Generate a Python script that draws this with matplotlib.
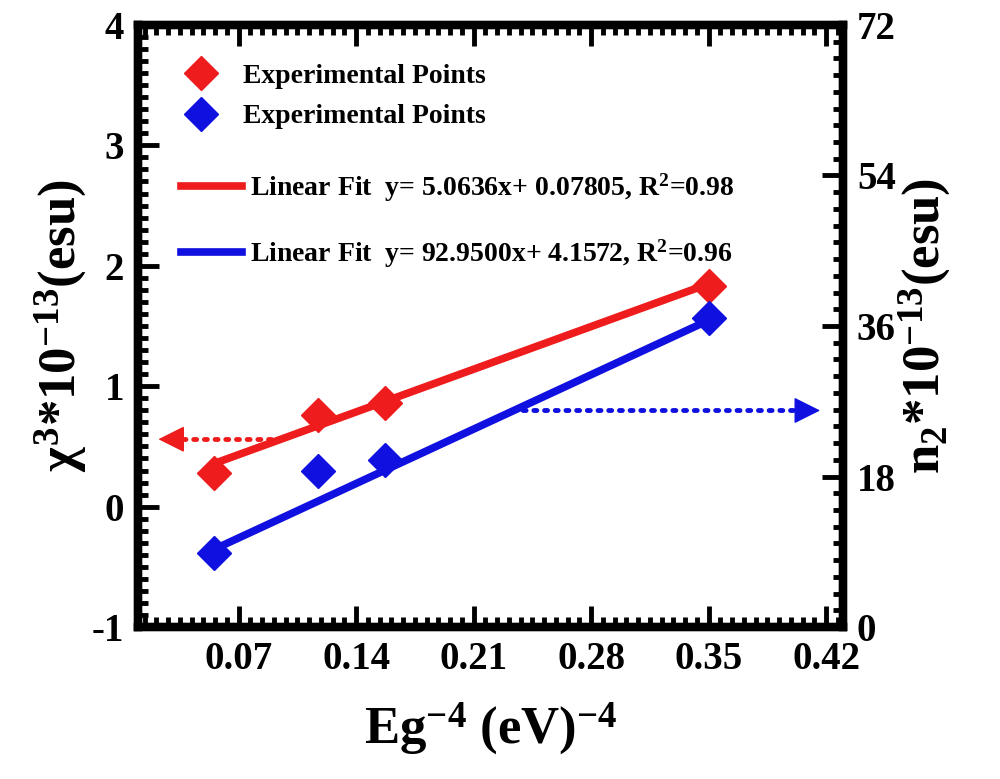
import matplotlib.pyplot as plt
from matplotlib.ticker import MultipleLocator
from matplotlib.lines import Line2D

# values
eg4 = [0.055, 0.117, 0.157, 0.350]
chi3 = [0.28, 0.76, 0.86, 1.83]          # left axis, x10^-13 esu
n2 = [8.8, 18.7, 20.0, 37.0]             # right axis, x10^-13 esu

fit_x = [0.055, 0.350]
chi3_fit = [5.0636 * x + 0.07805 for x in fit_x]
n2_fit = [92.9500 * x + 4.1572 for x in fit_x]

xticks = [0.07, 0.14, 0.21, 0.28, 0.35, 0.42]
RED = "#ee1c1c"
BLUE = "#1010e0"

plt.rcParams['font.family'] = ['Liberation Serif', 'DejaVu Serif']
plt.rcParams['font.weight'] = 'bold'
plt.rcParams['axes.unicode_minus'] = False
plt.rcParams['mathtext.fontset'] = 'custom'
plt.rcParams['mathtext.rm'] = 'Liberation Serif:bold'
plt.rcParams['mathtext.it'] = 'Liberation Serif:bold'
plt.rcParams['mathtext.bf'] = 'Liberation Serif:bold'

fig = plt.figure(figsize=(10, 7.79), dpi=100)
ax = fig.add_axes([0.138, 0.195, 0.705, 0.773])
ax2 = ax.twinx()

ax.set_xlim(0.01, 0.43)
ax.set_ylim(-1, 4)
ax2.set_ylim(0, 72)

ax.set_xticks(xticks)
ax.set_xticklabels([f"{v:.2f}" for v in xticks])
ax.xaxis.set_minor_locator(MultipleLocator(0.007))
ax.yaxis.set_major_locator(MultipleLocator(1))
ax.yaxis.set_minor_locator(MultipleLocator(0.1))
ax2.yaxis.set_major_locator(MultipleLocator(18))
ax2.yaxis.set_minor_locator(MultipleLocator(2))

for a in (ax, ax2):
    for s in a.spines.values():
        s.set_linewidth(6)
    a.tick_params(which='major', direction='in', length=15, width=3.5,
                  labelsize=28, pad=10)
    a.tick_params(which='minor', direction='in', length=7, width=3.5)
ax.tick_params(which='both', top=True, right=False)
ax2.tick_params(which='both', right=True, left=False)

# fits and points
ax.plot(fit_x, chi3_fit, color=RED, lw=5.5, solid_capstyle='round')
ax2.plot(fit_x, n2_fit, color=BLUE, lw=5.5, solid_capstyle='round')
ax.plot(eg4, chi3, 'D', color=RED, ms=17, zorder=5)
ax2.plot(eg4, n2, 'D', color=BLUE, ms=17, zorder=5)

# dotted arrows pointing to the axes
ax.plot([0.089, 0.035], [0.56, 0.56], ls=(0, (0.6, 1.6)), color=RED, lw=3.5,
        dash_capstyle='round')
ax.annotate("", xy=(0.0205, 0.56), xytext=(0.040, 0.56),
            arrowprops=dict(arrowstyle='-|>', color=RED, lw=1, mutation_scale=42))
ax2.plot([0.233, 0.402], [25.9, 25.9], ls=(0, (0.6, 1.6)), color=BLUE, lw=3.5,
         dash_capstyle='round')
ax2.annotate("", xy=(0.418, 25.9), xytext=(0.398, 25.9),
             arrowprops=dict(arrowstyle='-|>', color=BLUE, lw=1, mutation_scale=42))

# legends
h_pts = [Line2D([], [], ls='none', marker='D', color=RED, ms=17),
         Line2D([], [], ls='none', marker='D', color=BLUE, ms=17)]
leg1 = ax.legend(h_pts, ["Experimental Points", "Experimental Points"],
                 loc='upper left', bbox_to_anchor=(0.05, 0.955), frameon=False,
                 fontsize=20, handlelength=1.2, handletextpad=0.9,
                 labelspacing=0.55, borderaxespad=0)
ax.add_artist(leg1)
h_fit = [Line2D([], [], color=RED, lw=5.5), Line2D([], [], color=BLUE, lw=5.5)]
ax.legend(h_fit, [r"Linear Fit  y= 5.0636x+ 0.07805, R$^2$=0.98",
                  r"Linear Fit  y= 92.9500x+ 4.1572, R$^2$=0.96"],
          loc='upper left', bbox_to_anchor=(0.045, 0.775), frameon=False,
          fontsize=20, handlelength=2.2, handletextpad=0.3,
          labelspacing=1.2, borderaxespad=0)

ax.set_xlabel(r"Eg$^{-4}$ (eV)$^{-4}$", fontsize=38, fontweight='bold', labelpad=16)
ax.set_ylabel(r"$\chi^3$*10$^{-13}$(esu)", fontsize=38, fontweight='bold', labelpad=2)
ax2.set_ylabel(r"n$_2$*10$^{-13}$(esu)", fontsize=38, fontweight='bold',
               rotation=90, labelpad=0)

fig.savefig("out.png", dpi=100)
